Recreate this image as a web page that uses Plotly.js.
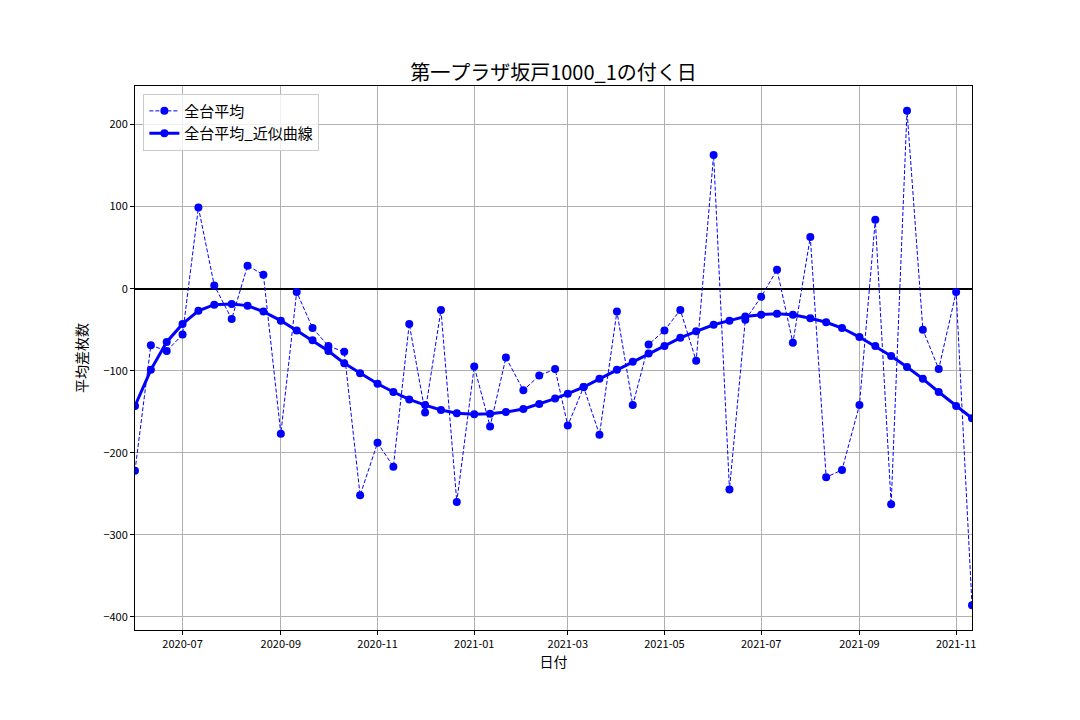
<!DOCTYPE html>
<html>
<head>
<meta charset="utf-8">
<script src="https://cdn.plot.ly/plotly-3.0.1.min.js"></script>
<style>
  body { margin: 0; background: #fff; }
  #plot { width: 1080px; height: 720px; }
</style>
</head>
<body>
<div id="plot"></div>
<script>
// days with a "1" in them: 1st, 11th, 21st of each month
var dates = [
  "2020-06-01", "2020-06-11", "2020-06-21", "2020-07-01", "2020-07-11", "2020-07-21",
  "2020-08-01", "2020-08-11", "2020-08-21", "2020-09-01", "2020-09-11", "2020-09-21",
  "2020-10-01", "2020-10-11", "2020-10-21", "2020-11-01", "2020-11-11", "2020-11-21",
  "2020-12-01", "2020-12-11", "2020-12-21", "2021-01-01", "2021-01-11", "2021-01-21",
  "2021-02-01", "2021-02-11", "2021-02-21", "2021-03-01", "2021-03-11", "2021-03-21",
  "2021-04-01", "2021-04-11", "2021-04-21", "2021-05-01", "2021-05-11", "2021-05-21",
  "2021-06-01", "2021-06-11", "2021-06-21", "2021-07-01", "2021-07-11", "2021-07-21",
  "2021-08-01", "2021-08-11", "2021-08-21", "2021-09-01", "2021-09-11", "2021-09-21",
  "2021-10-01", "2021-10-11", "2021-10-21", "2021-11-01", "2021-11-11"
];

// 全台平均
var avgDiff = [
  -222, -69, -76, -56, 99, 4,
  -37, 28, 17, -177, -4, -48,
  -70, -77, -252, -188, -217, -43,
  -151, -26, -260, -95, -168, -84,
  -124, -106, -98, -167, -120, -178,
  -28, -142, -68, -51, -26, -88,
  163, -245, -38, -10, 23, -66,
  63, -230, -221, -142, 84, -263,
  217, -50, -98, -4, -386
];

// 全台平均_近似曲線
var avgFit = [
  -143, -99, -65, -43, -27, -19.5,
  -18.7, -20.7, -28, -39, -51, -63,
  -76, -91, -103, -116, -126, -135,
  -142, -148, -152, -153, -152.4, -150.4,
  -146.7, -140.7, -134, -128, -120, -110,
  -99, -89, -79, -70, -60, -52,
  -44, -39, -34, -31.7, -30.5, -31.7,
  -36, -41, -48, -59, -70, -82,
  -95.5, -110, -126, -143, -158
];

var font = "Noto Sans CJK JP, sans-serif";

var raw = {
  x: dates,
  y: avgDiff,
  name: "全台平均",
  type: "scatter",
  mode: "lines+markers",
  line: {color: "#0000ff", width: 1, dash: "4px,2px"},
  marker: {color: "#0000ff", size: 8}
};

var fit = {
  x: dates,
  y: avgFit,
  name: "全台平均_近似曲線",
  type: "scatter",
  mode: "lines+markers",
  line: {color: "#0000ff", width: 3},
  marker: {color: "#0000ff", size: 8}
};

var layout = {
  width: 1080,
  height: 720,
  paper_bgcolor: "#fff",
  plot_bgcolor: "#fff",
  font: {family: font, color: "#000"},
  margin: {l: 135, r: 108, t: 86, b: 90},
  showlegend: true,
  title: {
    text: "第一プラザ坂戸1000_1の付く日",
    font: {size: 20, family: font, color: "#000"},
    x: 0.5125, xanchor: "center",
    y: 0.899, yanchor: "middle"
  },
  xaxis: {
    type: "date",
    range: ["2020-06-01", "2021-11-11"],
    tick0: "2020-07-01",
    dtick: "M2",
    tickformat: "%Y-%m",
    ticks: "outside",
    ticklen: 4,
    tickcolor: "#000",
    tickfont: {size: 11, family: font, color: "#000"},
    showgrid: true,
    gridcolor: "#b0b0b0",
    gridwidth: 1,
    showline: true,
    linecolor: "#000",
    linewidth: 1,
    mirror: true,
    zeroline: false,
    title: {text: "日付", font: {size: 14, family: font, color: "#000"}, standoff: 6}
  },
  yaxis: {
    range: [-416.2, 247.1],
    tick0: 0,
    dtick: 100,
    ticks: "outside",
    ticklen: 4,
    tickcolor: "#000",
    tickfont: {size: 11, family: font, color: "#000"},
    showgrid: true,
    gridcolor: "#b0b0b0",
    gridwidth: 1,
    showline: true,
    linecolor: "#000",
    linewidth: 1,
    mirror: true,
    zeroline: true,
    zerolinecolor: "#000",
    zerolinewidth: 1.5,
    title: {text: "平均差枚数", font: {size: 14, family: font, color: "#000"}, standoff: 12}
  },
  legend: {
    x: 0.01, y: 0.986,
    xanchor: "left", yanchor: "top",
    bgcolor: "rgba(255,255,255,0.8)",
    bordercolor: "#cccccc",
    borderwidth: 1,
    font: {size: 15, family: font, color: "#000"}
  }
};

Plotly.newPlot("plot", [raw, fit], layout, {displayModeBar: false});
</script>
</body>
</html>
